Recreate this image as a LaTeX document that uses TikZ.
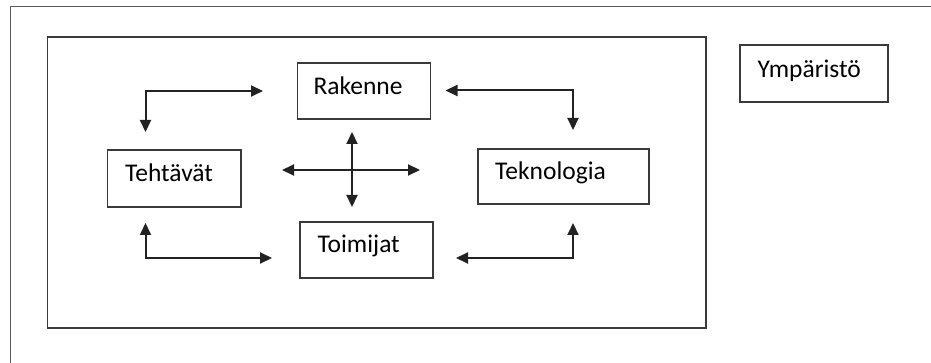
\documentclass[tikz,border=0pt]{standalone}
\usepackage{fontspec}
\setmainfont{Carlito}
\usetikzlibrary{arrows.meta}
\definecolor{framec}{HTML}{5A5A5A}
\definecolor{boxc}{HTML}{3A3A3A}
\definecolor{linec}{HTML}{222222}
\tikzset{
  box/.style={draw=boxc, line width=1.4pt, fill=white},
  lbl/.style={anchor=base west, inner sep=0pt, font=\fontsize{25.5}{30}\selectfont, text=black},
  link/.style={draw=linec, line width=2pt, {Triangle[length=12pt,width=11pt]}-{Triangle[length=12pt,width=11pt]}},
}
\begin{document}
\begin{tikzpicture}[x=1pt,y=-1pt]
\useasboundingbox (0,0) rectangle (931,363);
% outer frame, running past the right and lower edges
\begin{scope}
\clip (0,0) rectangle (931,363);
\draw[draw=framec, line width=1.6pt] (10.5,6.5) rectangle (960,400);
\end{scope}
% organisation boundary
\draw[draw=boxc, line width=1.6pt] (47.5,37) rectangle (706,328);

% boxes
\node[box, minimum width=133pt, minimum height=56pt] (rak) at (364,91) {};
\node[box, minimum width=133.5pt, minimum height=57pt] (teh) at (174.25,178.5) {};
\node[box, minimum width=171pt, minimum height=55pt] (tek) at (563.5,176.5) {};
\node[box, minimum width=133pt, minimum height=56pt] (toi) at (366.5,250) {};
\node[box, minimum width=148pt, minimum height=57pt] (ymp) at (814,73.5) {};

% box texts
\node[lbl] (rakt) at (313.3,95) {Rakenne};
\node[lbl] (teht) at (125,182) {Tehtävät};
\node[lbl] (tekt) at (495,180) {Teknologia};
\node[lbl] (toit) at (317.3,253) {Toimijat};
\node[lbl] (ympt) at (757.3,77.3) {Ympäristö};

% arrow end points
\coordinate (tl1) at (263,91);
\coordinate (tl2) at (145.5,132);
\coordinate (tr1) at (445.5,90.5);
\coordinate (tr2) at (573,130);
\coordinate (bl1) at (145.5,223);
\coordinate (bl2) at (272,258);
\coordinate (br1) at (456,258);
\coordinate (br2) at (573,223);
\coordinate (cw) at (282,170);
\coordinate (ce) at (420,170);
\coordinate (cn) at (352,132);
\coordinate (cs) at (352,207);

% elbow connectors
\draw[link] (tl1) -| (tl2);
\draw[link] (tr1) -| (tr2);
\draw[link] (bl1) |- (bl2);
\draw[link] (br1) -| (br2);
% central cross
\draw[link] (cw) -- (ce);
\draw[link] (cn) -- (cs);
\end{tikzpicture}
\end{document}
